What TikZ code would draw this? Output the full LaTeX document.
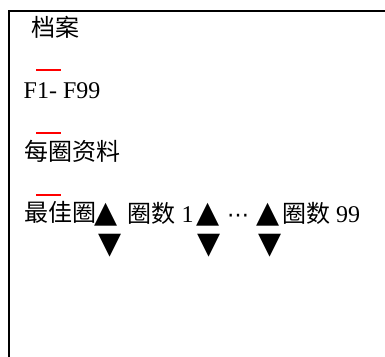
\documentclass[tikz,border=0pt]{standalone}
\usepackage{fontspec}
\setmainfont{Liberation Serif}
\newfontfamily\cjk{Noto Sans CJK SC}
\newfontfamily\symf{DejaVu Sans}
\begin{document}
\begin{tikzpicture}[x=1pt,y=-1pt,
  txt/.style={anchor=base west,inner sep=0pt,font=\fontsize{24}{24}\selectfont},
  tri/.style={anchor=base west,inner sep=0pt,font=\symf\fontsize{30}{30}\selectfont},
  redbar/.style={red,line width=2pt},
  frame/.style={black,line width=2pt}]
\useasboundingbox (0,0) rectangle (385,356);
% frame
\coordinate (tl) at (9,11);
\coordinate (tr) at (386,11);
\coordinate (bl) at (9,357);
\draw[frame] (tr) -- (tl) -- (bl);
% texts
\node[txt] (title) at (31,36) {\cjk 档案};
\node[txt] (files) at (23.5,98) {F1- F99};
\node[txt] (laps) at (24,160.5) {\cjk 每圈资料};
\node[txt] (best) at (24,221.5) {\cjk 最佳圈};
\node[tri] (up1) at (94.5,222) {▲};
\node[txt] (lap1) at (127.5,222) {\cjk 圈数\rmfamily\ 1};
\node[tri] (up2) at (196,222) {▲};
\node[txt,font=\symf\fontsize{22}{22}\selectfont] (dots) at (227,222) {⋯};
\node[tri] (up3) at (256,222) {▲};
\node[txt] (lap99) at (282,222) {\cjk 圈数\rmfamily\ 99};
\node[tri] (dn1) at (98,253) {▼};
\node[tri] (dn2) at (197,253) {▼};
\node[tri] (dn3) at (258,253) {▼};
% red bars
\draw[redbar] (36,69.8) -- (61,69.8);
\draw[redbar] (36,133) -- (61,133);
\draw[redbar] (36,194.5) -- (61,194.5);
\end{tikzpicture}
\end{document}
